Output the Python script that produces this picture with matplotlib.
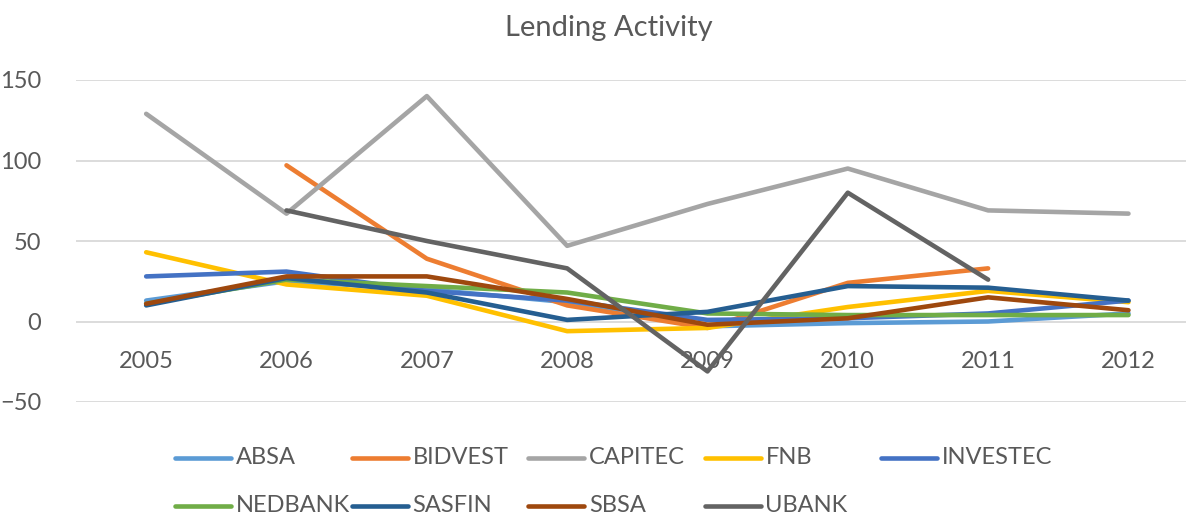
import matplotlib.pyplot as plt
from matplotlib.lines import Line2D
import numpy as np

years = ["2005", "2006", "2007", "2008", "2009", "2010", "2011", "2012"]
nan = np.nan

absa = [13, 25, 20, 12, -3, -1, 0, 5]
bidvest = [nan, 97, 39, 10, -4, 24, 33, nan]
capitec = [129, 67, 140, 47, 73, 95, 69, 67]
fnb = [43, 23, 16, -6, -4, 9, 19, 12]
investec = [28, 31, 19, 13, 1, 2, 5, 13]
nedbank = [11, 26, 22, 18, 5, 4, 4, 4]
sasfin = [10, 27, 18, 1, 6, 22, 21, 13]
sbsa = [11, 28, 28, 14, -2, 2, 15, 7]
ubank = [nan, 69, 50, 33, -31, 80, 26, nan]

names = ["ABSA", "BIDVEST", "CAPITEC", "FNB", "INVESTEC",
         "NEDBANK", "SASFIN", "SBSA", "UBANK"]
series = [absa, bidvest, capitec, fnb, investec, nedbank, sasfin, sbsa, ubank]
colors = ["#5B9BD5", "#ED7D31", "#A5A5A5", "#FFC000", "#4472C4",
          "#70AD47", "#255E91", "#9E480E", "#636363"]

plt.rcParams['font.family'] = ['Lato', 'DejaVu Sans']
text_color = "#595959"

fig = plt.figure(figsize=(11.86, 5.17), dpi=100)
W, H = 1186, 517
ax = fig.add_axes([76 / W, (H - 402) / H, 1 - 76 / W, (402 - 80) / H])

x = np.arange(len(years))
for vals, c in zip(series, colors):
    ax.plot(x, vals, color=c, lw=3.3, solid_capstyle='round',
            solid_joinstyle='round')

ax.set_ylim(-50, 150)
ax.set_xlim(-0.5, 7.41)
ax.set_yticks([-50, 0, 50, 100, 150])
ax.yaxis.grid(True, color="#D9D9D9", lw=1.3)
ax.set_axisbelow(True)
for s in ax.spines.values():
    s.set_visible(False)
ax.spines['bottom'].set_position(('data', 0))
ax.set_xticks(x)
ax.set_xticklabels(years)
ax.tick_params(axis='x', length=0, pad=21, labelsize=17, labelcolor=text_color)
ax.tick_params(axis='y', length=0, pad=25, labelsize=17, labelcolor=text_color)

fig.text(609 / W, 1 - 28 / H, "Lending Activity", ha='center', va='center',
         fontsize=21, color=text_color)

# legend laid out like the Excel one: 5 columns, 2 rows
col_x = [175, 351.5, 528, 704.5, 881]
row_y = [458, 506]
for i, (name, c) in enumerate(zip(names, colors)):
    r, k = divmod(i, 5)
    x0 = col_x[k]
    y0 = 1 - row_y[r] / H
    fig.add_artist(Line2D([x0 / W, (x0 + 56) / W], [y0, y0], color=c, lw=3.3,
                          solid_capstyle='round', transform=fig.transFigure))
    fig.text((x0 + 61) / W, y0, name, ha='left', va='center',
             fontsize=17, color=text_color)

fig.savefig("out.png", dpi=100)
